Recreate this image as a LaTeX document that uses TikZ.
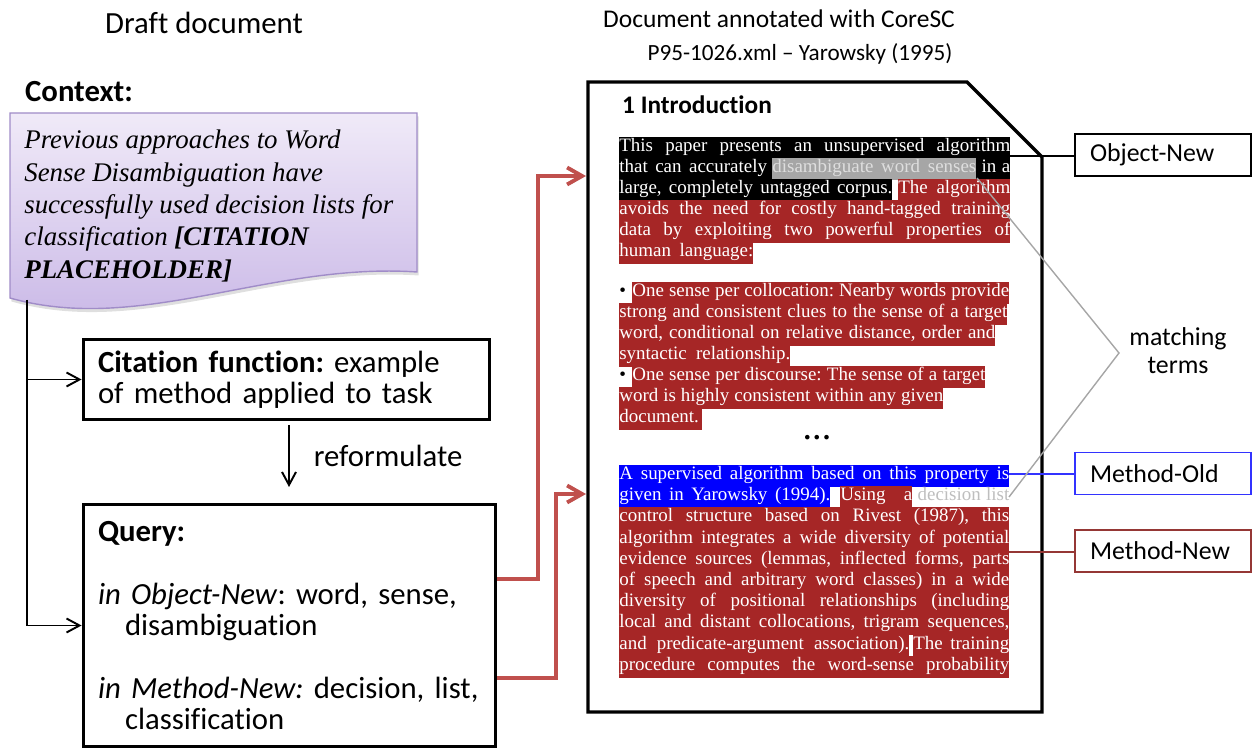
\documentclass[tikz,border=0pt]{standalone}
\usepackage{fontspec}
\setmainfont{Carlito}[Ligatures=NoCommon]
\newfontfamily\docfont{Liberation Serif}
\usetikzlibrary{arrows.meta,shadows}
\frenchspacing

\definecolor{hlred}{RGB}{166,38,38}
\definecolor{hlblue}{RGB}{0,0,255}
\definecolor{hlgrey}{RGB}{166,166,166}
\definecolor{termtext}{RGB}{222,222,222}
\definecolor{termgrey}{RGB}{190,190,190}
\definecolor{linkred}{RGB}{192,80,77}
\definecolor{methred}{RGB}{149,55,53}
\definecolor{oldblue}{RGB}{51,51,255}
\definecolor{ctxtop}{RGB}{240,234,248}
\definecolor{ctxbot}{RGB}{200,182,230}
\definecolor{ctxedge}{RGB}{160,140,200}

% one highlighted piece of a line: x from, x to, top, look, words
\newcounter{segno}
\newcommand\hlseg[5]{%
  \stepcounter{segno}%
  \pgfmathsetlengthmacro\segw{0.02cm*(#2-#1)}%
  \node[seg,#4] (seg\thesegno) at (#1,#3) {\makebox[\segw][s]{#5}};}

\begin{document}
\begin{tikzpicture}[x=0.02cm, y=-0.02cm,
    txt/.style={font=\fontsize{17.5}{17.9}\selectfont},
    notebox/.style={draw, line width=1.7pt, align=left, inner xsep=0.3cm, txt},
    flow/.style={-{Straight Barb[length=0.26cm,width=0.28cm]}, line width=1.1pt},
    hit/.style={linkred, line width=2.2pt, -{Straight Barb[length=0.3cm,width=0.34cm]}},
    tag/.style={draw, line width=1.1pt, minimum width=3.52cm, minimum height=0.84cm,
      text width=2.92cm, inner xsep=0.3cm, align=left, font=\fontsize{14.7}{16}\selectfont},
    seg/.style={anchor=north west, inner sep=0pt, text height=0.29cm, text depth=0.135cm,
      font=\docfont\fontsize{10.8}{11.9}\selectfont},
    objhl/.style={fill=black, text=white},
    methhl/.style={fill=hlred, text=white},
    oldhl/.style={fill=hlblue, text=white},
    termhl/.style={fill=hlgrey, text=termtext},
    listhl/.style={text=termgrey},
    plainhl/.style={text=black}]
\useasboundingbox (0,0) rectangle (1252,749);

% left: the draft
\node[txt] (drafthead) at (204,23) {Draft document};
\node[anchor=west, font=\bfseries\fontsize{17.5}{18}\selectfont] (ctxhead) at (19,92) {Context:};
\path[draw=ctxedge, line width=0.8pt, top color=ctxtop, bottom color=ctxbot,
  drop shadow={opacity=0.25, shadow xshift=0.03cm, shadow yshift=-0.07cm}]
  (10,113) -- (417,113) -- (417,272) .. controls (270,262) and (140,335) .. (10,298) -- cycle;
\node[anchor=north west, inner sep=0pt, align=left,
  font=\docfont\itshape\fontsize{15.3}{18.4}\selectfont] (ctx) at (24,130)
  {Previous approaches to Word\\ Sense Disambiguation have\\ successfully used decision lists for\\
   classification \textbf{[CITATION}\\ \textbf{PLACEHOLDER]}};

\node[notebox, minimum height=1.6cm, text width=7.54cm] (cite) at (286.5,379.5)
  {\textbf{Citation function:} example\\ of method applied to task};
\node[notebox, minimum height=4.86cm, text width=7.66cm] (query) at (289.5,625.5)
  {\textbf{Query:}\\[17.9pt]
   \textit{in Object-New}: word, sense,\\ \hspace*{0.54cm}disambiguation\\[17.9pt]
   \textit{in Method-New:} decision, list,\\ \hspace*{0.54cm}classification};

\coordinate (ctxfoot) at (27,300);
\draw[flow] (ctxfoot) |- (cite.west);
\draw[flow] (ctxfoot) |- (query.west);
\coordinate (refA) at (289,425);
\coordinate (refB) at (289,487);
\draw[flow] (refA) -- (refB) node[midway, right=0.36cm, txt] (reformlbl) {reformulate};

% right: the annotated paper
\node[font=\fontsize{14.5}{16}\selectfont] (annohead) at (779,19) {Document annotated with CoreSC};
\node[font=\fontsize{13.2}{15}\selectfont] (fileref) at (800,54) {P95-1026.xml – Yarowsky (1995)};
\draw[line width=1.9pt] (588,82) -- (967,82) -- (1042,157) -- (1042,712) -- (588,712) -- cycle;
\node[anchor=west, font=\bfseries\fontsize{14.4}{16}\selectfont] (sechead) at (616,105) {1 Introduction};

\hlseg{619}{1010}{137}{objhl}{This paper presents an unsupervised algorithm}
\hlseg{619}{772}{158}{objhl}{that can accurately\kern3pt}
\hlseg{772}{976}{158}{termhl}{disambiguate word senses}
\hlseg{976}{1010}{158}{objhl}{\kern3pt in a}
\hlseg{619}{892}{179}{objhl}{large, completely untagged corpus.}
\hlseg{898}{1010}{179}{methhl}{The algorithm}
\hlseg{619}{1010}{200}{methhl}{avoids the need for costly hand-tagged training}
\hlseg{619}{1010}{221}{methhl}{data by exploiting two powerful properties of}
\hlseg{619}{753}{242}{methhl}{human language:}

\hlseg{619}{632}{282}{plainhl}{\textbullet}
\hlseg{632}{1009}{282}{methhl}{One sense per collocation: Nearby words provide}
\hlseg{619}{1007}{303}{methhl}{strong and consistent clues to the sense of a target}
\hlseg{619}{995}{324}{methhl}{word, conditional on relative distance, order and}
\hlseg{619}{790}{345}{methhl}{syntactic relationship.}
\hlseg{619}{632}{366}{plainhl}{\textbullet}
\hlseg{632}{985}{366}{methhl}{One sense per discourse: The sense of a target}
\hlseg{619}{943}{387}{methhl}{word is highly consistent within any given}
\hlseg{619}{702}{408}{methhl}{document.}

\node[font=\docfont\bfseries\fontsize{16}{16}\selectfont] (gap) at (817,438) {.\kern1.5pt.\kern1.5pt.};

\hlseg{619}{1009}{465}{oldhl}{A supervised algorithm based on this property is}
\hlseg{619}{830}{486}{oldhl}{given in Yarowsky (1994).}
\hlseg{840}{912}{486}{methhl}{Using a}
\hlseg{912}{1009}{486}{listhl}{\kern3pt decision list}
\hlseg{619}{1009}{507}{methhl}{control structure based on Rivest (1987), this}
\hlseg{619}{1009}{529}{methhl}{algorithm integrates a wide diversity of potential}
\hlseg{619}{1009}{550}{methhl}{evidence sources (lemmas, inflected forms, parts}
\hlseg{619}{1009}{571}{methhl}{of speech and arbitrary word classes) in a wide}
\hlseg{619}{1009}{592}{methhl}{diversity of positional relationships (including}
\hlseg{619}{1009}{613}{methhl}{local and distant collocations, trigram sequences,}
\hlseg{619}{909}{635}{methhl}{and predicate-argument association).}
\hlseg{913}{1009}{635}{methhl}{The training}
\hlseg{619}{1009}{656}{methhl}{procedure computes the word-sense probability}

% query terms go to the matching sentences
\coordinate (objbend) at (538,579);
\coordinate (methbend) at (556,678);
\coordinate (objin) at (586,176);
\coordinate (methin) at (586,494);
\draw[hit] (query.east |- objbend) -- (objbend) |- (objin);
\draw[hit] (query.east |- methbend) -- (methbend) |- (methin);

% category tags
\node[tag] (objnew) at (1163,155) {Object-New};
\node[tag, draw=oldblue] (methold) at (1163,473.5) {Method-Old};
\node[tag, draw=methred] (methnew) at (1163,551) {Method-New};
\coordinate (objend) at (1010,156);
\coordinate (oldend) at (1009,474);
\coordinate (newend) at (1009,552);
\draw[line width=1.1pt] (objend) -- (objend -| objnew.west);
\draw[oldblue, line width=0.9pt] (oldend) -- (oldend -| methold.west);
\draw[methred, line width=0.9pt] (newend) -- (newend -| methnew.west);

\coordinate (senses) at (977,178);
\coordinate (fork) at (1119,353);
\coordinate (declist) at (1009,497);
\draw[gray!70, line width=0.8pt] (senses) -- (fork) -- (declist);
\node[align=center, font=\fontsize{14.7}{16}\selectfont] (matchlbl) at (1178,351) {matching\\ terms};
\end{tikzpicture}
\end{document}
